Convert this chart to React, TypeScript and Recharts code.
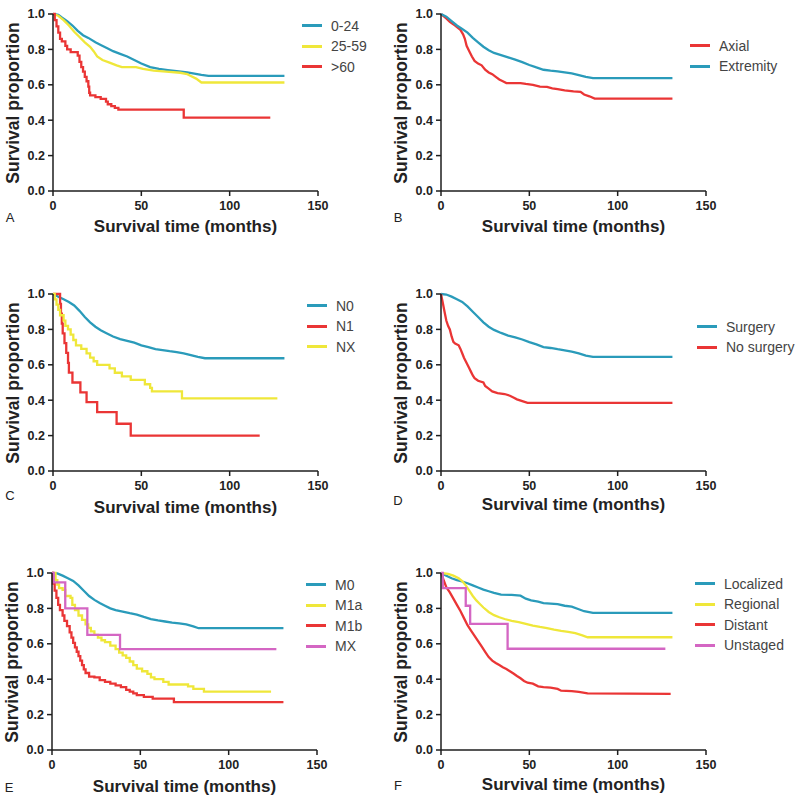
import React from 'react';
import { LineChart, Line, XAxis, YAxis, Legend } from 'recharts';

type Pt = [number, number];

const timeTicks = [0, 50, 100, 150];
const survTicks = [0, 0.2, 0.4, 0.6, 0.8, 1.0];

// A - age groups
const age0to24: Pt[] = [[0, 1], [3, 0.995], [5, 0.98], [8, 0.96], [11, 0.935], [14, 0.905], [17, 0.88], [20, 0.865], [24, 0.84], [27, 0.825], [31, 0.805], [34, 0.79], [38, 0.775], [42, 0.76], [46, 0.74], [50, 0.72], [55, 0.7], [60, 0.69], [65, 0.683], [70, 0.677], [76, 0.67], [80, 0.663], [84, 0.656], [88, 0.65], [131, 0.65]];
const age25to59: Pt[] = [[0, 1], [3, 0.99], [6, 0.965], [9, 0.935], [12, 0.9], [15, 0.87], [18, 0.84], [21, 0.815], [23, 0.79], [25, 0.76], [28, 0.74], [32, 0.725], [36, 0.71], [39, 0.7], [47, 0.7], [51, 0.69], [57, 0.68], [64, 0.675], [72, 0.668], [76, 0.66], [78, 0.65], [81, 0.635], [84, 0.613], [131, 0.613]];
const ageOver60: Pt[] = [[0, 1], [1, 0.965], [2, 0.93], [3, 0.895], [4, 0.86], [5, 0.845], [7, 0.82], [8, 0.8], [10, 0.785], [14, 0.765], [15, 0.73], [16, 0.7], [17, 0.675], [18, 0.645], [19, 0.62], [20, 0.59], [20.5, 0.555], [21, 0.54], [24, 0.53], [27, 0.52], [30, 0.505], [31, 0.49], [33, 0.48], [35, 0.47], [37, 0.46], [74, 0.415], [123, 0.415]];

// B - site
const axial: Pt[] = [[0, 1], [3, 0.975], [5, 0.955], [8, 0.935], [11, 0.91], [12.5, 0.885], [13.5, 0.86], [14.5, 0.82], [16, 0.79], [17.5, 0.76], [19, 0.735], [21, 0.72], [23, 0.71], [25, 0.685], [27, 0.67], [29, 0.66], [31, 0.645], [33, 0.63], [35, 0.62], [37, 0.61], [45, 0.61], [48, 0.605], [52, 0.6], [56, 0.59], [60, 0.588], [63, 0.58], [66, 0.575], [70, 0.568], [75, 0.563], [79, 0.56], [81, 0.545], [84, 0.535], [87, 0.522], [131, 0.522]];
const extremity: Pt[] = [[0, 1], [3, 0.985], [6, 0.96], [9, 0.935], [12, 0.915], [15, 0.895], [18, 0.865], [21, 0.84], [24, 0.815], [27, 0.795], [30, 0.78], [34, 0.768], [38, 0.755], [42, 0.742], [46, 0.728], [50, 0.712], [54, 0.698], [58, 0.685], [62, 0.68], [66, 0.676], [70, 0.67], [74, 0.664], [78, 0.655], [82, 0.645], [86, 0.638], [131, 0.638]];

// C - N stage
const n0: Pt[] = [[0, 1], [3, 0.985], [6, 0.97], [9, 0.955], [12, 0.935], [15, 0.905], [18, 0.87], [21, 0.84], [24, 0.815], [27, 0.795], [30, 0.78], [34, 0.76], [38, 0.745], [42, 0.735], [46, 0.725], [50, 0.71], [54, 0.7], [58, 0.688], [62, 0.683], [66, 0.677], [70, 0.672], [74, 0.665], [78, 0.655], [82, 0.645], [86, 0.637], [131, 0.637]];
const n1: Pt[] = [[0, 1], [4, 0.944], [4.5, 0.889], [5, 0.833], [5.5, 0.778], [6.5, 0.722], [7.5, 0.667], [8.5, 0.611], [9, 0.556], [11, 0.5], [15.5, 0.444], [19, 0.389], [25, 0.333], [36, 0.267], [44, 0.2], [117, 0.2]];
const nx: Pt[] = [[0, 1], [1, 0.97], [2, 0.94], [3, 0.91], [4, 0.88], [6, 0.85], [7, 0.82], [8.5, 0.8], [10, 0.77], [11.5, 0.74], [13, 0.71], [16, 0.69], [19, 0.665], [21, 0.64], [23, 0.62], [25, 0.6], [32, 0.58], [35, 0.555], [39, 0.535], [44, 0.515], [52, 0.49], [55, 0.47], [56, 0.45], [73, 0.41], [127, 0.41]];

// D - surgery
const surgery: Pt[] = [[0, 1], [3, 0.997], [6, 0.985], [9, 0.97], [12, 0.955], [15, 0.93], [18, 0.9], [21, 0.87], [24, 0.84], [27, 0.815], [30, 0.797], [34, 0.78], [38, 0.765], [42, 0.755], [46, 0.743], [50, 0.728], [54, 0.715], [58, 0.7], [62, 0.695], [66, 0.688], [70, 0.682], [74, 0.675], [78, 0.665], [82, 0.652], [86, 0.645], [131, 0.645]];
const noSurgery: Pt[] = [[0, 1], [1, 0.95], [2, 0.9], [3, 0.85], [4, 0.82], [5, 0.8], [6, 0.76], [7, 0.73], [8, 0.72], [10, 0.71], [11, 0.69], [12, 0.665], [13, 0.64], [14, 0.62], [15, 0.6], [16, 0.58], [17, 0.56], [18, 0.54], [19, 0.525], [21, 0.51], [24, 0.5], [25, 0.48], [27, 0.465], [29, 0.45], [32, 0.44], [36, 0.435], [39, 0.425], [41, 0.415], [43, 0.405], [46, 0.395], [49, 0.385], [131, 0.385]];

// E - M stage
const m0: Pt[] = [[0, 1], [3, 0.998], [6, 0.985], [9, 0.97], [12, 0.955], [15, 0.93], [18, 0.9], [21, 0.87], [24, 0.848], [27, 0.83], [30, 0.815], [33, 0.8], [36, 0.79], [40, 0.782], [44, 0.773], [48, 0.765], [52, 0.752], [56, 0.74], [60, 0.732], [64, 0.726], [68, 0.72], [72, 0.716], [76, 0.71], [80, 0.698], [83, 0.688], [131, 0.688]];
const m1a: Pt[] = [[0, 1], [2, 0.96], [3, 0.935], [4, 0.915], [6, 0.905], [7.5, 0.87], [10.5, 0.86], [11.5, 0.82], [13, 0.79], [15, 0.76], [17, 0.735], [19, 0.71], [20.5, 0.69], [22, 0.67], [24, 0.65], [26, 0.635], [28, 0.62], [30, 0.61], [33, 0.59], [36, 0.57], [38, 0.55], [40, 0.535], [42, 0.52], [44, 0.5], [46, 0.48], [48, 0.46], [51, 0.445], [54, 0.43], [56, 0.41], [58, 0.4], [63, 0.385], [66, 0.37], [77, 0.36], [80, 0.345], [86, 0.33], [124, 0.33]];
const m1b: Pt[] = [[0, 1], [0.5, 0.94], [1.5, 0.9], [2.5, 0.86], [3.5, 0.82], [4.5, 0.79], [6, 0.76], [7, 0.73], [8.5, 0.7], [10, 0.665], [11, 0.635], [12, 0.605], [13, 0.58], [14, 0.555], [15, 0.53], [16, 0.505], [17, 0.48], [18, 0.455], [19, 0.435], [21, 0.415], [24, 0.41], [27, 0.395], [30, 0.385], [33, 0.375], [36, 0.365], [39, 0.355], [42, 0.34], [44, 0.33], [46, 0.32], [48, 0.31], [52, 0.3], [57, 0.29], [69, 0.27], [131, 0.27]];
const mx: Pt[] = [[0, 1], [1, 0.947], [7.5, 0.8], [20, 0.65], [38.5, 0.57], [127, 0.57]];

// F - summary stage
const localized: Pt[] = [[0, 1], [3, 0.985], [6, 0.97], [9, 0.96], [12, 0.952], [15, 0.942], [18, 0.93], [21, 0.918], [24, 0.906], [27, 0.897], [30, 0.888], [34, 0.878], [40, 0.876], [45, 0.872], [48, 0.855], [51, 0.845], [55, 0.838], [58, 0.83], [62, 0.827], [66, 0.824], [70, 0.815], [74, 0.81], [78, 0.795], [81, 0.784], [86, 0.775], [131, 0.775]];
const regional: Pt[] = [[0, 1], [4, 0.995], [7, 0.985], [10, 0.97], [12, 0.955], [14, 0.93], [16, 0.9], [18, 0.87], [20, 0.845], [22, 0.825], [24, 0.805], [27, 0.78], [30, 0.762], [33, 0.75], [36, 0.74], [40, 0.73], [44, 0.722], [48, 0.713], [52, 0.703], [56, 0.695], [60, 0.688], [64, 0.68], [68, 0.673], [72, 0.668], [76, 0.66], [80, 0.648], [83, 0.637], [131, 0.637]];
const distant: Pt[] = [[0, 1], [1.5, 0.96], [3, 0.92], [5, 0.89], [7, 0.855], [9, 0.82], [11, 0.785], [13, 0.745], [15, 0.705], [17, 0.675], [19, 0.645], [21, 0.615], [23, 0.585], [25, 0.555], [27, 0.525], [29, 0.505], [31, 0.492], [33, 0.48], [35, 0.468], [37, 0.458], [39, 0.445], [41, 0.432], [43, 0.418], [45, 0.405], [47, 0.39], [49, 0.38], [52, 0.375], [55, 0.36], [58, 0.355], [62, 0.352], [66, 0.345], [68, 0.335], [74, 0.333], [78, 0.328], [83, 0.32], [130, 0.317]];
const unstaged: Pt[] = [[0, 1], [1, 0.915], [14, 0.815], [16.5, 0.713], [37.7, 0.572], [127, 0.572]];

const TEAL = '#2a9bba';
const YELLOW = '#efe73a';
const RED = '#ea3535';
const PINK = '#d466c3';
const FONT = '"Liberation Sans", Arial, Helvetica, sans-serif';
const AXIS = '#1e1e1e';

const PLOT_W = 265;
const PLOT_H = 177;
const Y_W = 53;
const X_H = 30;
const TOP = 14;
const CW = 400;
const CH = 230;

type Series = { name: string; color: string; pts: Pt[]; step?: boolean };
type Panel = {
  letter: string; px: number; py: number;
  legX: number; legY: number; titleDy: number; letterDy: number;
  series: Series[];
};

const panels: Panel[] = [
  { letter: 'A', px: 53, py: 14, legX: 249, legY: 12, titleDy: 36, letterDy: 26, series: [
    { name: '0-24', color: TEAL, pts: age0to24 },
    { name: '25-59', color: YELLOW, pts: age25to59 },
    { name: '>60', color: RED, pts: ageOver60, step: true },
  ] },
  { letter: 'B', px: 441, py: 14, legX: 249, legY: 32, titleDy: 36, letterDy: 26, series: [
    { name: 'Axial', color: RED, pts: axial },
    { name: 'Extremity', color: TEAL, pts: extremity },
  ] },
  { letter: 'C', px: 53, py: 294, legX: 254, legY: 12, titleDy: 37, letterDy: 24, series: [
    { name: 'N0', color: TEAL, pts: n0 },
    { name: 'N1', color: RED, pts: n1, step: true },
    { name: 'NX', color: YELLOW, pts: nx, step: true },
  ] },
  { letter: 'D', px: 441, py: 294, legX: 256, legY: 33, titleDy: 34, letterDy: 29, series: [
    { name: 'Surgery', color: TEAL, pts: surgery },
    { name: 'No surgery', color: RED, pts: noSurgery },
  ] },
  { letter: 'E', px: 52, py: 573, legX: 254, legY: 12, titleDy: 37, letterDy: 37, series: [
    { name: 'M0', color: TEAL, pts: m0 },
    { name: 'M1a', color: YELLOW, pts: m1a, step: true },
    { name: 'M1b', color: RED, pts: m1b, step: true },
    { name: 'MX', color: PINK, pts: mx, step: true },
  ] },
  { letter: 'F', px: 441, py: 573, legX: 254, legY: 11, titleDy: 35, letterDy: 35, series: [
    { name: 'Localized', color: TEAL, pts: localized },
    { name: 'Regional', color: YELLOW, pts: regional },
    { name: 'Distant', color: RED, pts: distant },
    { name: 'Unstaged', color: PINK, pts: unstaged, step: true },
  ] },
];

function LegendBox({ series }: { series: Series[] }) {
  return (
    <div style={{ fontFamily: FONT, fontSize: 14, color: '#444' }}>
      {series.map((s) => (
        <div key={s.name} style={{ display: 'flex', alignItems: 'center', height: 20.4, whiteSpace: 'nowrap' }}>
          <span style={{ display: 'inline-block', width: 20, height: 3, background: s.color, marginRight: 9 }} />
          <span>{s.name}</span>
        </div>
      ))}
    </div>
  );
}

const tickStyle = { fontSize: 12.5, fontWeight: 'bold' as const, fill: '#222', fontFamily: FONT };

function SurvivalPanel({ p }: { p: Panel }) {
  const plotBottom = TOP + PLOT_H;
  return (
    <div style={{ position: 'absolute', left: p.px - Y_W, top: p.py - TOP, width: CW, height: CH }}>
      <LineChart
        width={CW}
        height={CH}
        margin={{ top: TOP, right: CW - Y_W - PLOT_W, bottom: CH - TOP - PLOT_H - X_H, left: 0 }}
      >
        <XAxis
          type="number"
          dataKey="t"
          domain={[0, 150]}
          ticks={timeTicks}
          height={X_H}
          tick={tickStyle}
          tickSize={5}
          tickMargin={5}
          axisLine={{ stroke: AXIS, strokeWidth: 1.5 }}
          tickLine={{ stroke: AXIS, strokeWidth: 1.5 }}
        />
        <YAxis
          type="number"
          dataKey="s"
          domain={[0, 1]}
          ticks={survTicks}
          width={Y_W}
          tick={tickStyle}
          tickSize={5}
          tickMargin={3}
          tickFormatter={(v: number) => v.toFixed(1)}
          axisLine={{ stroke: AXIS, strokeWidth: 1.5 }}
          tickLine={{ stroke: AXIS, strokeWidth: 1.5 }}
        />
        <Legend
          layout="vertical"
          align="center"
          verticalAlign="middle"
          wrapperStyle={{ left: Y_W + p.legX, top: TOP + p.legY - 10.2, width: 'auto' }}
          content={() => <LegendBox series={p.series} />}
        />
        {p.series.map((s) => (
          <Line
            key={s.name}
            data={s.pts.map(([t, v]) => ({ t, s: v }))}
            dataKey="s"
            name={s.name}
            type={s.step ? 'stepAfter' : 'linear'}
            stroke={s.color}
            strokeWidth={2.3}
            dot={false}
            activeDot={false}
            isAnimationActive={false}
          />
        ))}
      </LineChart>
      <div
        style={{
          position: 'absolute', left: Y_W - 40, top: TOP + PLOT_H / 2,
          transform: 'translate(-50%, -50%) rotate(-90deg)', whiteSpace: 'nowrap',
          fontFamily: FONT, fontWeight: 'bold', fontSize: 17.5, color: '#222',
        }}
      >
        Survival proportion
      </div>
      <div
        style={{
          position: 'absolute', left: Y_W + PLOT_W / 2, top: plotBottom + p.titleDy,
          transform: 'translate(-50%, -50%)', whiteSpace: 'nowrap',
          fontFamily: FONT, fontWeight: 'bold', fontSize: 17, color: '#222',
        }}
      >
        Survival time (months)
      </div>
      <div
        style={{
          position: 'absolute', left: Y_W - 43, top: plotBottom + p.letterDy,
          transform: 'translate(-50%, -50%)', fontFamily: FONT, fontSize: 13, color: '#222',
        }}
      >
        {p.letter}
      </div>
    </div>
  );
}

export default function App() {
  return (
    <div style={{ position: 'absolute', left: 0, top: 0, width: 800, height: 803, background: '#fff', overflow: 'hidden' }}>
      {panels.map((p) => (
        <SurvivalPanel key={p.letter} p={p} />
      ))}
    </div>
  );
}
